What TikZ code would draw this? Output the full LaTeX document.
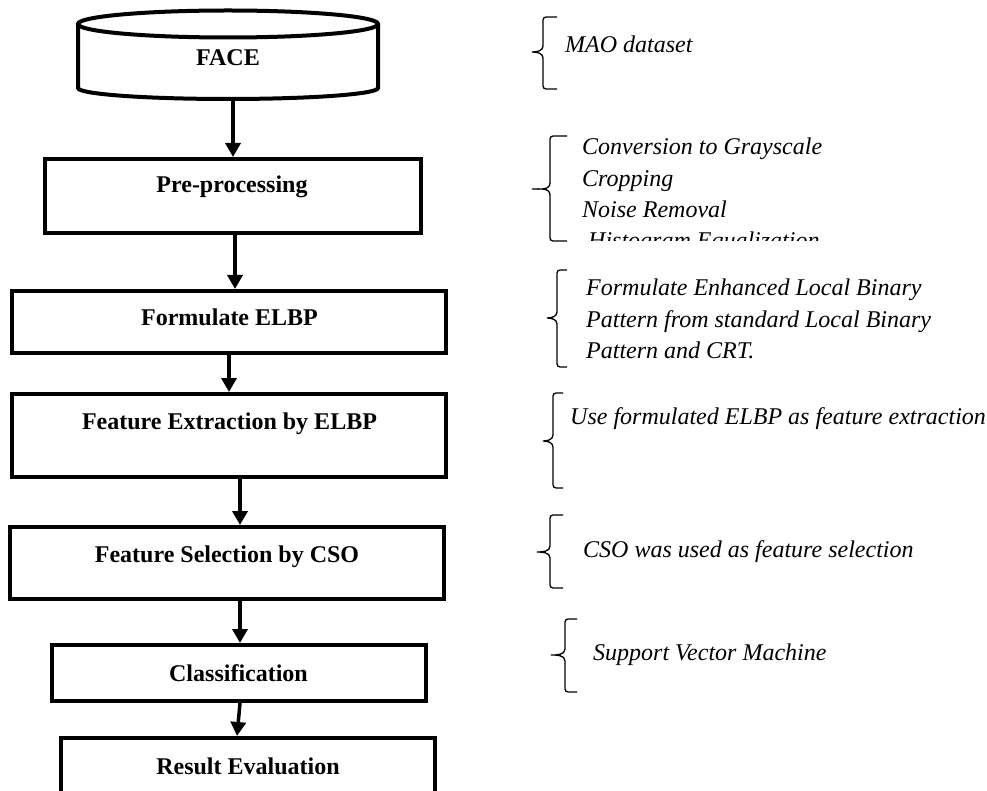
\documentclass[tikz,border=0pt]{standalone}
\usepackage{fontspec}
\setmainfont{Liberation Serif}
\usetikzlibrary{arrows.meta}
\tikzset{
  box/.style={draw, line width=4pt, inner sep=0pt},
  btxt/.style={font=\bfseries\fontsize{24}{29}\selectfont, inner sep=0pt, anchor=base},
  note/.style={font=\itshape\fontsize{24}{29}\selectfont, inner sep=0pt, anchor=base west},
  arr/.style={line width=3.5pt, -{Triangle[length=14pt,width=15pt]}},
  bracepath/.style={line width=1.3pt}
}
\newcommand\notebrace[6]{% vx top bot hook mid tip
  \draw[bracepath] ({#4},{-#2}) -- ({#1+3},{-#2}) to[out=180,in=90] ({#1},{-#2-3})
    -- ({#1},{-#5+6}) to[out=-90,in=0] ({#6},{-#5}) to[out=0,in=90] ({#1},{-#5-6})
    -- ({#1},{-#3+3}) to[out=-90,in=180] ({#1+3},{-#3}) -- ({#4},{-#3});}
\begin{document}
\begin{tikzpicture}[x=1pt,y=1pt]
\useasboundingbox (0,0) rectangle (987,-791);
\clip (0,0) rectangle (987,-791);
\fill[white] (0,0) rectangle (987,-791);

% cylinder
\draw[line width=4pt] (228,-24) ellipse [x radius=150, y radius=13.5];
\draw[line width=4pt] (78,-24) -- (78,-88) arc[start angle=180, end angle=360, x radius=150, y radius=11] -- (378,-24);
\node[inner sep=0pt, minimum width=300pt, minimum height=75pt] (face) at (228,-61.5) {};
\node[btxt] (facetxt) at (228,-66) {FACE};

% boxes
\node[box, minimum width=376pt, minimum height=74pt] (pre) at (233,-196) {};
\node[btxt] (pretxt) at (232,-193) {Pre-processing};
\node[box, minimum width=434pt, minimum height=62pt] (felbp) at (229,-322) {};
\node[btxt] (felbptxt) at (229.5,-326) {Formulate ELBP};
\node[box, minimum width=434pt, minimum height=83pt] (fext) at (229,-435.5) {};
\node[btxt] (fexttxt) at (229.5,-429) {Feature Extraction by ELBP};
\node[box, minimum width=434pt, minimum height=72pt] (fsel) at (227,-563) {};
\node[btxt] (fseltxt) at (227,-562) {Feature Selection by CSO};
\node[box, minimum width=374pt, minimum height=56pt] (cls) at (239,-673) {};
\node[btxt] (clstxt) at (238.5,-681) {Classification};
\node[box, minimum width=374pt, minimum height=82pt] (res) at (248,-779) {};
\node[btxt] (restxt) at (248,-774) {Result Evaluation};

% arrows
\draw[arr] ([xshift=5pt]face.south) -- (pre.north);
\draw[arr] ([xshift=2pt]pre.south) -- ([xshift=6pt]felbp.north);
\draw[arr] (felbp.south) -- (fext.north);
\draw[arr] ([xshift=11pt]fext.south) -- ([xshift=13pt]fsel.north);
\draw[arr] ([xshift=13pt]fsel.south) -- ([xshift=1pt]cls.north);
\draw[arr] ([xshift=1pt]cls.south) -- ([xshift=-11pt]res.north);

% braces
\notebrace{543}{17}{89}{557}{52}{532}
\notebrace{550}{136}{241}{567}{189}{532}
\notebrace{557}{270}{367}{567}{318}{547}
\notebrace{553}{393}{488}{563}{441}{543}
\notebrace{550}{515}{588}{563}{552}{537}
\notebrace{565}{619}{692}{577}{655}{551}

% notes
\node[note] (n1) at (565,-53) {MAO dataset};
\node[note] (n2a) at (582,-155) {Conversion to Grayscale};
\node[note] (n2b) at (582,-186.3) {Cropping};
\node[note] (n2c) at (582,-217.6) {Noise Removal};
\begin{scope}
\clip (560,-226) rectangle (950,-241);
\node[note] (n2d) at (588,-249) {Histogram Equalization};
\end{scope}
\node[note] (n3a) at (586,-296) {Formulate Enhanced Local Binary};
\node[note] (n3b) at (586,-327) {Pattern from standard Local Binary};
\node[note] (n3c) at (586,-358) {Pattern and CRT.};
\node[note] (n4) at (570,-424) {Use formulated ELBP as feature extraction};
\node[note] (n5) at (583,-557) {CSO was used as feature selection};
\node[note] (n6) at (593,-660) {Support Vector Machine};
\end{tikzpicture}
\end{document}
